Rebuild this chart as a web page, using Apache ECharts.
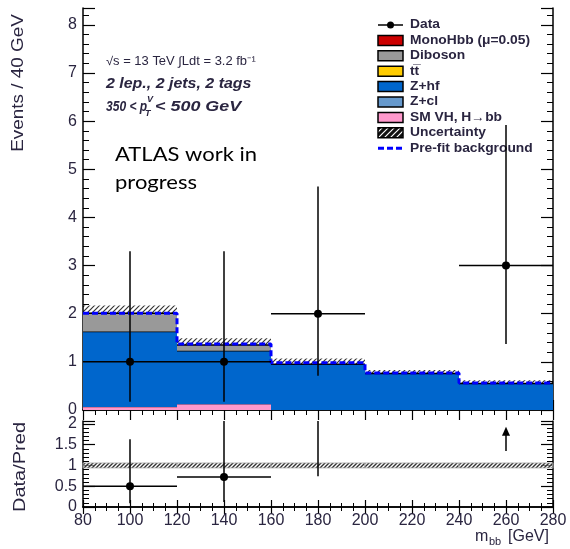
<!DOCTYPE html>
<html>
<head>
<meta charset="utf-8">
<script src="https://cdn.jsdelivr.net/npm/echarts@6/dist/echarts.min.js"></script>
<style>
html,body{margin:0;padding:0;background:#fff;}
#chart{width:570px;height:549px;}
</style>
</head>
<body>
<div id="chart"></div>
<script>
// histogram bins (m_bb, GeV)
var binEdges = [80, 120, 160, 200, 240, 280];
// stacked backgrounds, events per bin
var smVH    = [0.06, 0.12, 0, 0, 0];
var zhf     = [1.57, 1.11, 0.95, 0.76, 0.55];
var diboson = [0.38, 0.12, 0, 0, 0];
var uncert  = [0.16, 0.14, 0.12, 0.07, 0.07];
var prefit  = [2.01, 1.37, 0.98, 0.77, 0.56];
// data points
var dataX  = [100, 140, 180, 260];
var dataY  = [1, 1, 2, 3];
var dataLo = [0.17, 0.17, 0.71, 1.37];
var dataHi = [3.30, 3.30, 4.64, 5.92];
// ratio panel
var ratioX  = [100, 140, 180];
var ratioY  = [0.5, 0.72, 2.2];
var ratioLo = [0.09, 0.12, 0.74];
var ratioHi = [1.63, 2.45, 4.8];
var ratioErr = [0.06, 0.06, 0.06, 0.06, 0.06];
var arrowX = [260], arrowFrom = [1.35], arrowTo = [1.93];

var legendNames = ['Data', 'MonoHbb (\u03bc=0.05)', 'Diboson', 'tt\u0305', 'Z+hf', 'Z+cl', 'SM VH, H\u2192bb', 'Uncertainty', 'Pre-fit background'];
var legendColors = [null, '#cc0000', '#999999', '#ffcc00', '#0066cc', '#6699cc', '#ff99cc', 'hatch', 'dash'];

var txt = '#2a2540';
var font = 'Liberation Sans';

function hatchPattern(bg, fg, w, s) {
    var c = document.createElement('canvas');
    c.width = s; c.height = s;
    var g = c.getContext('2d');
    if (bg) { g.fillStyle = bg; g.fillRect(0, 0, s, s); }
    g.strokeStyle = fg;
    g.lineWidth = w;
    g.beginPath();
    g.moveTo(0, s); g.lineTo(s, 0);
    g.moveTo(-s / 2, s / 2); g.lineTo(s / 2, -s / 2);
    g.moveTo(s / 2, s * 1.5); g.lineTo(s * 1.5, s / 2);
    g.stroke();
    return c;
}
var hatchFill = {image: hatchPattern(null, 'rgba(0,0,0,0.8)', 1.2, 5), repeat: 'repeat'};
var hatchDark = {image: hatchPattern('rgba(255,255,255,0.5)', '#333', 1.4, 4), repeat: 'repeat'};
var hatchBox = {image: hatchPattern('#111', '#fff', 1.2, 6), repeat: 'repeat'};

function cum(arrs) {
    return binEdges.slice(1).map(function (e, i) {
        var s = 0;
        arrs.forEach(function (a) { s += a[i]; });
        return s;
    });
}
var total = cum([smVH, zhf, diboson]);

function histLayer(name, vals, base, fill, edge) {
    return {
        name: name, type: 'custom', xAxisIndex: 0, yAxisIndex: 0, z: 3,
        data: vals.map(function (v, i) { return [i, v]; }),
        renderItem: function (params, api) {
            var i = params.dataIndex;
            if (!vals[i]) return;
            var p0 = api.coord([binEdges[i], base[i] + vals[i]]);
            var p1 = api.coord([binEdges[i + 1], base[i]]);
            return {type: 'group', children: [
                {type: 'rect', shape: {x: p0[0], y: p0[1], width: p1[0] - p0[0], height: p1[1] - p0[1]}, style: {fill: fill}},
                {type: 'line', shape: {x1: p0[0], y1: p0[1], x2: p1[0], y2: p0[1]}, style: {stroke: edge, lineWidth: 1.5}}
            ]};
        }
    };
}
var zeros = [0, 0, 0, 0, 0];

function xAx(grid, pos, labels, tl, ml) {
    return {
        type: 'value', gridIndex: grid, position: pos, min: 80, max: 280, interval: 20,
        axisLine: {show: true, lineStyle: {color: '#000', width: 1.5}},
        axisTick: {show: true, inside: true, length: tl, lineStyle: {color: '#000', width: 1.2}},
        minorTick: {show: true, splitNumber: 4, length: ml, lineStyle: {color: '#000', width: 1}},
        axisLabel: {show: labels, color: txt, fontFamily: font, fontSize: 16, margin: 6},
        splitLine: {show: false}
    };
}
function yAx(grid, pos, labels, max, iv, minor) {
    return {
        type: 'value', gridIndex: grid, position: pos, min: 0, max: max, interval: iv,
        axisLine: {show: true, lineStyle: {color: '#000', width: 1.5}},
        axisTick: {show: true, inside: true, length: 12, lineStyle: {color: '#000', width: 1.2}},
        minorTick: {show: true, splitNumber: minor, length: 6, lineStyle: {color: '#000', width: 1}},
        axisLabel: {show: labels, showMaxLabel: false, color: txt, fontFamily: font, fontSize: 16, margin: 6},
        splitLine: {show: false}
    };
}

var chart = echarts.init(document.getElementById('chart'));

var bi = {fontFamily: font, fontSize: 14, fontStyle: 'italic', fontWeight: 'bold', fill: txt, verticalAlign: 'middle'};
function st(o) { var r = {}; for (var k in bi) r[k] = bi[k]; for (var j in o) r[j] = o[j]; return r; }

var graphics = [
    {type: 'text', x: 19, y: 83, rotation: Math.PI / 2, scaleX: 1.18, style: {text: 'Events / 40 GeV', fontFamily: font, fontSize: 16, fill: txt, align: 'center', verticalAlign: 'middle'}},
    {type: 'text', x: 21, y: 467, rotation: Math.PI / 2, scaleX: 1.25, style: {text: 'Data/Pred', fontFamily: font, fontSize: 16, fill: txt, align: 'center', verticalAlign: 'middle'}},
    {type: 'text', x: 475, y: 537, style: {text: 'm', fontFamily: font, fontSize: 16, fill: txt, verticalAlign: 'middle'}},
    {type: 'text', x: 489, y: 542, style: {text: 'bb', fontFamily: font, fontSize: 11, fill: txt, verticalAlign: 'middle'}},
    {type: 'text', x: 508, y: 537, style: {text: '[GeV]', fontFamily: font, fontSize: 16, fill: txt, verticalAlign: 'middle'}},
    {type: 'text', x: 106, y: 62, scaleX: 1.08, style: {text: '\u221as = 13 TeV \u222bLdt = 3.2 fb\u207b\u00b9', fontFamily: font, fontSize: 12, fill: txt, verticalAlign: 'middle'}},
    {type: 'text', x: 106, y: 84, scaleX: 1.14, style: st({text: '2 lep., 2 jets, 2 tags'})},
    {type: 'text', x: 106, y: 107, scaleX: 0.86, style: st({text: '350 < p'})},
    {type: 'text', x: 147, y: 100, style: st({text: 'V', fontSize: 9})},
    {type: 'text', x: 145, y: 114, style: st({text: 'T', fontSize: 9})},
    {type: 'text', x: 155, y: 107, scaleX: 1.28, style: st({text: '< 500 GeV'})},
    {type: 'text', x: 115, y: 155, scaleX: 1.1, style: {text: 'ATLAS work in', fontFamily: 'Lato', fontSize: 20, fill: '#000', verticalAlign: 'middle'}},
    {type: 'text', x: 115, y: 183, scaleX: 1.1, style: {text: 'progress', fontFamily: 'Lato', fontSize: 20, fill: '#000', verticalAlign: 'middle'}}
];
legendNames.forEach(function (n, i) {
    var y = 25 + i * 15.4;
    var c = legendColors[i];
    if (c === null) {
        graphics.push({type: 'line', shape: {x1: 378, y1: y, x2: 403, y2: y}, style: {stroke: '#000', lineWidth: 1.5}});
        graphics.push({type: 'circle', shape: {cx: 390.5, cy: y, r: 3.5}, style: {fill: '#000'}});
    } else if (c === 'dash') {
        graphics.push({type: 'line', shape: {x1: 378, y1: y, x2: 403, y2: y}, style: {stroke: '#0000ff', lineWidth: 3, lineDash: [6, 3]}});
    } else {
        graphics.push({type: 'rect', shape: {x: 378, y: y - 5, width: 25, height: 10}, style: {fill: c === 'hatch' ? hatchBox : c, stroke: '#000', lineWidth: 1.5}});
    }
    graphics.push({type: 'text', x: 410, y: y, scaleX: 1.15, style: {text: n, fontFamily: font, fontSize: 12, fontWeight: 'bold', fill: txt, verticalAlign: 'middle'}});
});

chart.setOption({
    animation: false,
    backgroundColor: '#fff',
    grid: [
        {left: 83, right: 17, top: 8, height: 402},
        {left: 83, right: 17, top: 421, height: 86}
    ],
    xAxis: [
        xAx(0, 'bottom', false, 10, 5),
        xAx(0, 'top', false, 10, 5),
        xAx(1, 'bottom', true, 7, 4),
        xAx(1, 'top', false, 7, 4)
    ],
    yAxis: [
        yAx(0, 'left', true, 8.35, 1, 5),
        yAx(0, 'right', false, 8.35, 1, 5),
        yAx(1, 'left', true, 2.07, 0.5, 5),
        yAx(1, 'right', false, 2.07, 0.5, 5)
    ],
    graphic: graphics,
    series: [
        {
            name: 'Uncertainty', type: 'custom', xAxisIndex: 0, yAxisIndex: 0, z: 2,
            data: total.map(function (t, i) { return [i, t]; }),
            renderItem: function (params, api) {
                var i = params.dataIndex;
                var p0 = api.coord([binEdges[i], total[i] + uncert[i]]);
                var p1 = api.coord([binEdges[i + 1], total[i] - uncert[i]]);
                return {type: 'rect', shape: {x: p0[0], y: p0[1], width: p1[0] - p0[0], height: p1[1] - p0[1]}, style: {fill: hatchFill}};
            }
        },
        histLayer('SM VH, H\u2192bb', smVH, zeros, '#ff99cc', '#cc6688'),
        histLayer('Z+hf', zhf, smVH, '#0066cc', '#000'),
        histLayer('Diboson', diboson, cum([smVH, zhf]), '#999999', '#000'),
        {
            name: 'Pre-fit background', type: 'line', xAxisIndex: 0, yAxisIndex: 0, z: 4,
            step: 'end', symbol: 'none',
            data: binEdges.map(function (x, i) { return [x, prefit[Math.min(i, prefit.length - 1)]]; }),
            lineStyle: {color: '#0000ff', width: 3, type: [6, 3]}
        },
        {
            name: 'Data', type: 'custom', xAxisIndex: 0, yAxisIndex: 0, z: 6, clip: true,
            data: dataX.map(function (x, i) { return [x, dataY[i]]; }),
            renderItem: function (params, api) {
                var i = params.dataIndex, x = dataX[i], y = dataY[i];
                var c = api.coord([x, y]), lo = api.coord([x, dataLo[i]]), hi = api.coord([x, dataHi[i]]);
                var l = api.coord([x - 20, y]), r = api.coord([x + 20, y]);
                return {type: 'group', children: [
                    {type: 'line', shape: {x1: lo[0], y1: lo[1], x2: hi[0], y2: hi[1]}, style: {stroke: '#000', lineWidth: 1.5}},
                    {type: 'line', shape: {x1: l[0], y1: l[1], x2: r[0], y2: r[1]}, style: {stroke: '#000', lineWidth: 1.5}},
                    {type: 'circle', shape: {cx: c[0], cy: c[1], r: 4}, style: {fill: '#000'}}
                ]};
            }
        },
        {
            name: 'Ratio band', type: 'custom', xAxisIndex: 2, yAxisIndex: 2, z: 3,
            data: ratioErr.map(function (e, i) { return [i, e]; }),
            renderItem: function (params, api) {
                var i = params.dataIndex;
                var p0 = api.coord([binEdges[i], 1 + ratioErr[i]]);
                var p1 = api.coord([binEdges[i + 1], 1 - ratioErr[i]]);
                return {type: 'rect', shape: {x: p0[0], y: p0[1], width: p1[0] - p0[0], height: p1[1] - p0[1]}, style: {fill: hatchDark, stroke: '#aaa', lineWidth: 0.8}};
            }
        },
        {
            name: 'Ratio', type: 'custom', xAxisIndex: 2, yAxisIndex: 2, z: 6, clip: true,
            data: ratioX.map(function (x, i) { return [x, ratioY[i]]; }),
            renderItem: function (params, api) {
                var i = params.dataIndex, x = ratioX[i], y = ratioY[i];
                var c = api.coord([x, y]), lo = api.coord([x, ratioLo[i]]), hi = api.coord([x, ratioHi[i]]);
                var l = api.coord([x - 20, y]), r = api.coord([x + 20, y]);
                return {type: 'group', children: [
                    {type: 'line', shape: {x1: lo[0], y1: lo[1], x2: hi[0], y2: hi[1]}, style: {stroke: '#000', lineWidth: 1.5}},
                    {type: 'line', shape: {x1: l[0], y1: l[1], x2: r[0], y2: r[1]}, style: {stroke: '#000', lineWidth: 1.5}},
                    {type: 'circle', shape: {cx: c[0], cy: c[1], r: 4}, style: {fill: '#000'}}
                ]};
            }
        },
        {
            name: 'Arrow', type: 'custom', xAxisIndex: 2, yAxisIndex: 2, z: 6,
            data: arrowX.map(function (x, i) { return [x, arrowTo[i]]; }),
            renderItem: function (params, api) {
                var i = params.dataIndex;
                var a = api.coord([arrowX[i], arrowFrom[i]]), b = api.coord([arrowX[i], arrowTo[i]]);
                return {type: 'group', children: [
                    {type: 'line', shape: {x1: a[0], y1: a[1], x2: b[0], y2: b[1] + 6}, style: {stroke: '#000', lineWidth: 1.5}},
                    {type: 'polygon', shape: {points: [[b[0], b[1]], [b[0] - 4, b[1] + 9], [b[0] + 4, b[1] + 9]]}, style: {fill: '#000'}}
                ]};
            }
        }
    ]
});
</script>
</body>
</html>
